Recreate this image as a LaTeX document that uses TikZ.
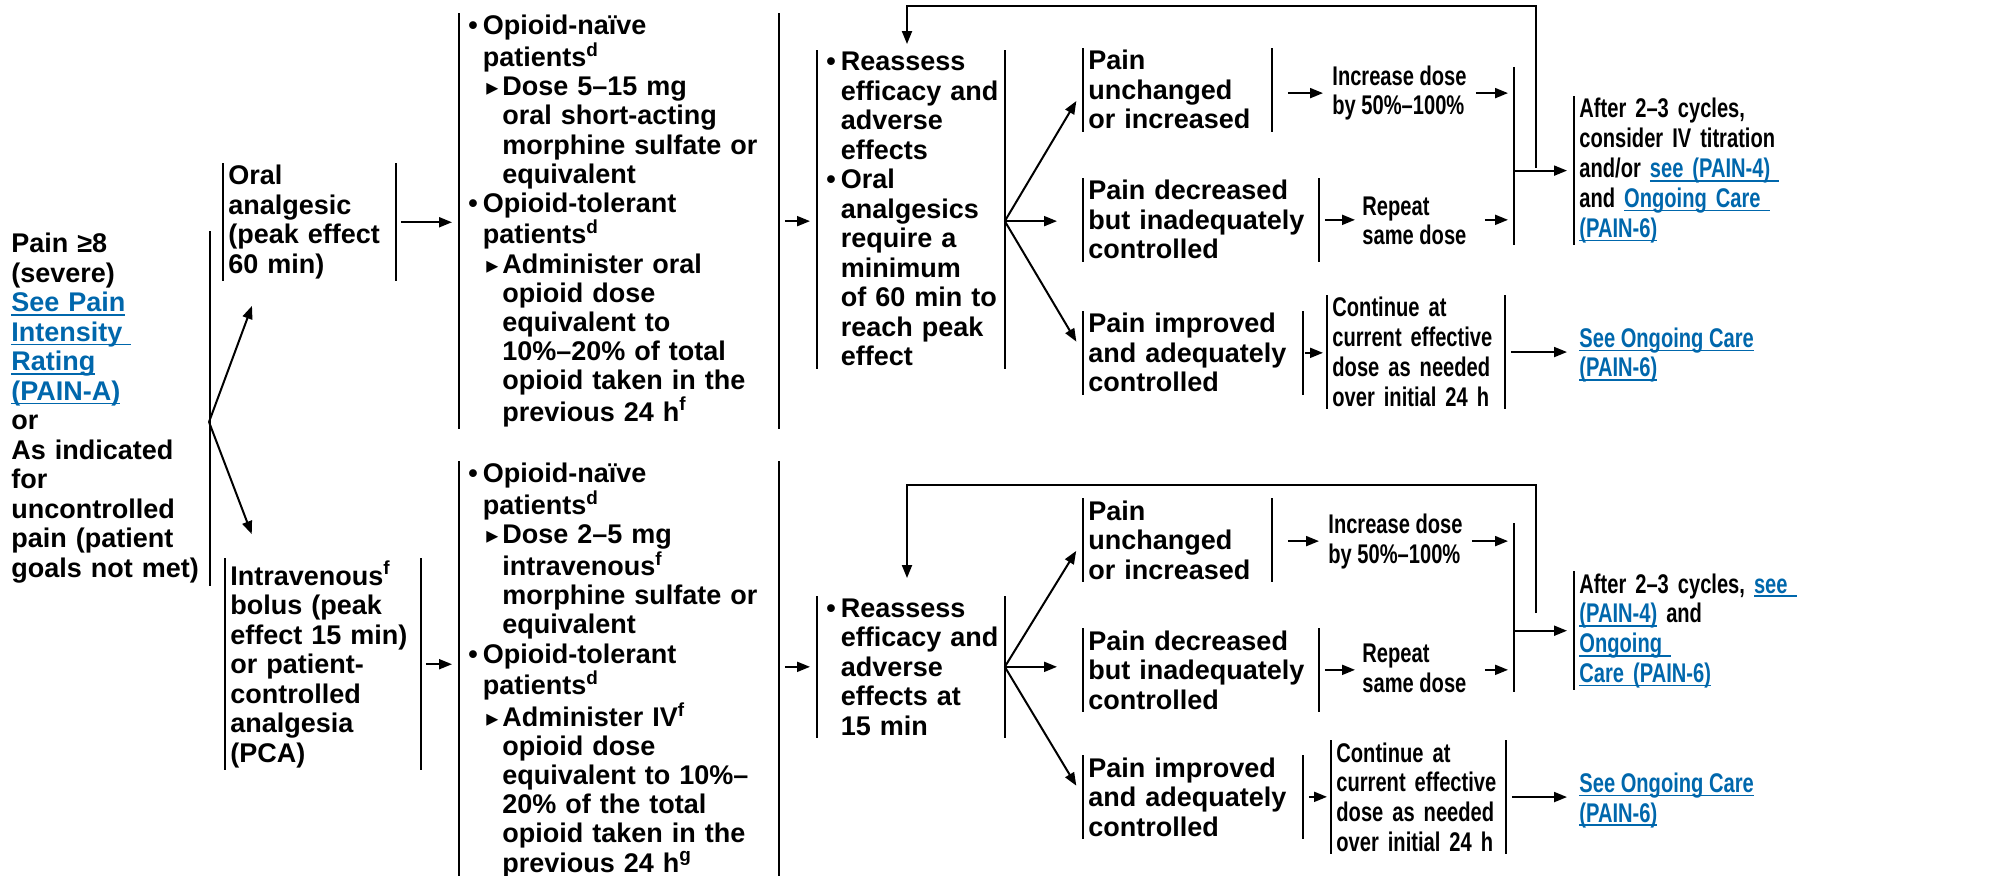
\documentclass[tikz,border=0pt]{standalone}
\usepackage{fontspec}
\setmainfont{Liberation Sans}
\newfontfamily\narrowfont[FakeStretch=0.745]{Liberation Sans}
\newfontfamily\symfont{DejaVu Sans}
\usetikzlibrary{arrows.meta}
\definecolor{linkblue}{RGB}{0,103,172}
\newsavebox\lnkbox
\def\lnk#1{\leavevmode{\color{linkblue}\sbox\lnkbox{#1}\rlap{\rule[-2pt]{\wd\lnkbox}{0.8pt}}\usebox\lnkbox}}
\def\itemdot{\makebox[9.25pt][l]{\hspace{2pt}•}}
\def\itemtri{\makebox[19pt][l]{\hspace{11pt}{\symfont\fontsize{12}{12}\selectfont ▸}}}
\def\hangA{\hspace*{9.25pt}}
\def\hangB{\hspace*{19pt}}
\tikzset{
  barline/.style={line width=1pt},
  arr/.style={draw, line width=1pt, -{Triangle[length=6.5pt,width=5pt]}},
  boxtext/.style={anchor=base west, align=left, inner xsep=2.5pt, inner ysep=1pt, text width=#1},
  twobar/.style={boxtext=#1, append after command={\pgfextra{\let\curbox\tikzlastnode}
      (\curbox.north west) edge[barline] (\curbox.south west)
      (\curbox.north east) edge[barline] (\curbox.south east)}},
  leftbar/.style={boxtext=#1, append after command={\pgfextra{\let\curbox\tikzlastnode}
      (\curbox.north west) edge[barline] (\curbox.south west)}},
  rightbar/.style={boxtext=#1, append after command={\pgfextra{\let\curbox\tikzlastnode}
      (\curbox.north east) edge[barline] (\curbox.south east)}},
  plaintext/.style={anchor=base west, align=left, inner sep=0pt},
  narrow/.style={font=\narrowfont\fontsize{13.5}{14.9}\selectfont\bfseries},
  tight/.style={font=\fontsize{13.5}{14.55}\selectfont\bfseries}
}

\begin{document}
\begin{tikzpicture}[x=0.5pt, y=-0.5pt, font=\fontsize{13.5}{14.75}\selectfont\bfseries]
			%%%%% START %%%%%
			\useasboundingbox (0,0) rectangle (1990,876);
			
			\node[rightbar=96.5pt] (pain) at (6,253) {Pain ≥8\\(severe)\\\lnk{See Pain}\\\lnk{Intensity\ }\\\lnk{Rating}\\\lnk{(PAIN-A)}\\or\\As indicated\\for\\uncontrolled\\pain (patient\\goals not met)};
			\coordinate (s0) at (209,422);
			
			%% oral branch
			\node[twobar=81pt] (oral) at (223,185) {Oral\\analgesic\\(peak effect\\60 min)};
			\node[twobar=154.5pt, tight] (opioid1) at (459,35) {\itemdot Opioid-naïve\\
				\hangA patients\textsuperscript{d}\\
				\itemtri Dose 5–15 mg\\
				\hangB oral short-acting\\
				\hangB morphine sulfate or\\
				\hangB equivalent\\
				\itemdot Opioid-tolerant\\
				\hangA patients\textsuperscript{d}\\
				\itemtri Administer oral\\
				\hangB opioid dose\\
				\hangB equivalent to\\
				\hangB 10\%–20\% of total\\
				\hangB opioid taken in the\\
				\hangB previous 24 h\textsuperscript{f}};
			\node[twobar=88.5pt] (reass1) at (817,71) {\itemdot Reassess\\\hangA efficacy and\\\hangA adverse\\\hangA effects\\
				\itemdot Oral\\\hangA analgesics\\\hangA require a\\\hangA minimum\\\hangA of 60 min to\\\hangA reach peak\\\hangA effect};
			\node[twobar=89pt] (unch1) at (1083,70) {Pain\\unchanged\\or increased};
			\node[twobar=112.5pt] (decr1) at (1083,200) {Pain decreased\\but inadequately\\controlled};
			\node[twobar=104.5pt] (impr1) at (1083,333) {Pain improved\\and adequately\\controlled};
			\node[plaintext, narrow] (incr1) at (1332,115) {Increase dose\\by 50\%–100\%};
			\node[plaintext, narrow] (rep1) at (1362,245) {Repeat\\same dose};
			\node[twobar=83.5pt, narrow] (cont1) at (1327,317) {Continue at\\current effective\\dose as needed\\over initial 24 h};
			\node[leftbar=110pt, narrow] (after1) at (1574,118) {After 2–3 cycles,\\consider IV titration\\and/or \lnk{see (PAIN-4)\ }\\and \lnk{Ongoing Care\ }\\\lnk{(PAIN-6)}};
			\node[plaintext, narrow] (see1) at (1579,377) {\lnk{See Ongoing Care}\\\lnk{(PAIN-6)}};
			\coordinate (c1a) at (1514,67);
			\coordinate (c1b) at (1514,245);
			\coordinate (j1) at (1536,168);
			\coordinate (top1) at (907,6);
			
			%% intravenous branch
			\node[twobar=92.5pt] (iv) at (225,585) {Intravenous\textsuperscript{f}\\bolus (peak\\effect 15 min)\\or patient-\\controlled\\analgesia\\(PCA)};
			\node[twobar=154.5pt, tight] (opioid2) at (459,483) {\itemdot Opioid-naïve\\
				\hangA patients\textsuperscript{d}\\
				\itemtri Dose 2–5 mg\\
				\hangB intravenous\textsuperscript{f}\\
				\hangB morphine sulfate or\\
				\hangB equivalent\\
				\itemdot Opioid-tolerant\\
				\hangA patients\textsuperscript{d}\\
				\itemtri Administer IV\textsuperscript{f}\\
				\hangB opioid dose\\
				\hangB equivalent to 10\%–\\
				\hangB 20\% of the total\\
				\hangB opioid taken in the\\
				\hangB previous 24 h\textsuperscript{g}};
			\node[twobar=88.5pt] (reass2) at (817,617) {\itemdot Reassess\\\hangA efficacy and\\\hangA adverse\\\hangA effects at\\\hangA 15 min};
			\node[twobar=89pt] (unch2) at (1083,520) {Pain\\unchanged\\or increased};
			\node[twobar=112.5pt] (decr2) at (1083,650) {Pain decreased\\but inadequately\\controlled};
			\node[twobar=104.5pt] (impr2) at (1083,777) {Pain improved\\and adequately\\controlled};
			\node[plaintext, narrow] (incr2) at (1328,563) {Increase dose\\by 50\%–100\%};
			\node[plaintext, narrow] (rep2) at (1362,692) {Repeat\\same dose};
			\node[twobar=82pt, narrow] (cont2) at (1331,762) {Continue at\\current effective\\dose as needed\\over initial 24 h};
			\node[leftbar=110pt, narrow] (after2) at (1574,593) {After 2–3 cycles, \lnk{see\ }\\\lnk{(PAIN-4)} and \lnk{Ongoing\ }\\\lnk{Care (PAIN-6)}};
			\node[plaintext, narrow] (see2) at (1579,822) {\lnk{See Ongoing Care}\\\lnk{(PAIN-6)}};
			\coordinate (c2a) at (1514,523);
			\coordinate (c2b) at (1514,692);
			\coordinate (j2) at (1536,613);
			\coordinate (top2) at (907,485);
			
			%% arrows
			\draw[arr, shorten >=13pt] (s0) -- ([xshift=19pt]oral.south west);
			\draw[arr, shorten >=13pt] (s0) -- ([xshift=18pt]iv.north west);
			
			\draw[arr, shorten <=2.5pt, shorten >=3.5pt] (oral.east) -- (oral.east -| opioid1.west);
			\draw[arr, shorten <=3pt, shorten >=3.5pt] (opioid1.east) -- (opioid1.east -| reass1.west);
			\coordinate (s1) at (reass1.east |- opioid1.east);
			\draw[arr, shorten >=6.5pt] (s1) -- (unch1.west);
			\draw[arr, shorten >=13pt] (s1) -- (s1 -| decr1.west);
			\draw[arr, shorten >=6.5pt] (s1) -- (impr1.west);
			\draw[arr, shorten <=8pt, shorten >=4.5pt] (unch1.east |- incr1.west) -- (incr1.west);
			\draw[arr, shorten <=3pt, shorten >=3.5pt] (decr1.east) -- (decr1.east -| rep1.west);
			\draw[arr, shorten <=1pt, shorten >=2pt] (impr1.east) -- (impr1.east -| cont1.west);
			\draw[arr, shorten <=4.5pt, shorten >=3pt] (incr1.east) -- (incr1.east -| c1a);
			\draw[arr, shorten <=9pt, shorten >=3pt] (rep1.east |- decr1.east) -- (decr1.east -| c1a);
			\draw[barline] (c1a) -- (c1b);
			\draw[arr, shorten >=3.5pt] (after1.west -| c1a) -- (after1.west);
			\draw[arr, shorten <=3pt, shorten >=6pt] (cont1.east) -- (cont1.east -| see1.west);
			\draw[arr, shorten >=3pt] (j1) |- (top1) -- (top1 |- reass1.north);
			
			\draw[arr, shorten <=2.5pt, shorten >=3.5pt] (iv.east) -- (iv.east -| opioid2.west);
			\draw[arr, shorten <=3pt, shorten >=3.5pt] (reass2.west -| opioid2.east) -- (reass2.west);
			\coordinate (s2) at (reass2.east);
			\draw[arr, shorten >=6.5pt] (s2) -- (unch2.west);
			\draw[arr, shorten >=13pt] (s2) -- (s2 -| decr2.west);
			\draw[arr, shorten >=6.5pt] (s2) -- (impr2.west);
			\draw[arr, shorten <=8pt, shorten >=4.5pt] (unch2.east |- incr2.west) -- (incr2.west);
			\draw[arr, shorten <=3pt, shorten >=3.5pt] (decr2.east) -- (decr2.east -| rep2.west);
			\draw[arr, shorten <=3pt, shorten >=2pt] (impr2.east) -- (impr2.east -| cont2.west);
			\draw[arr, shorten <=4.5pt, shorten >=3pt] (incr2.east) -- (incr2.east -| c2a);
			\draw[arr, shorten <=9pt, shorten >=3pt] (rep2.east |- decr2.east) -- (decr2.east -| c2a);
			\draw[barline] (c2a) -- (c2b);
			\draw[arr, shorten >=3.5pt] (after2.west -| c2a) -- (after2.west);
			\draw[arr, shorten <=3pt, shorten >=6pt] (cont2.east) -- (cont2.east -| see2.west);
			\draw[arr, shorten >=9pt] (j2) |- (top2) -- (top2 |- reass2.north);
			
			%%%%% END %%%%%
\end{tikzpicture}
\end{document}
